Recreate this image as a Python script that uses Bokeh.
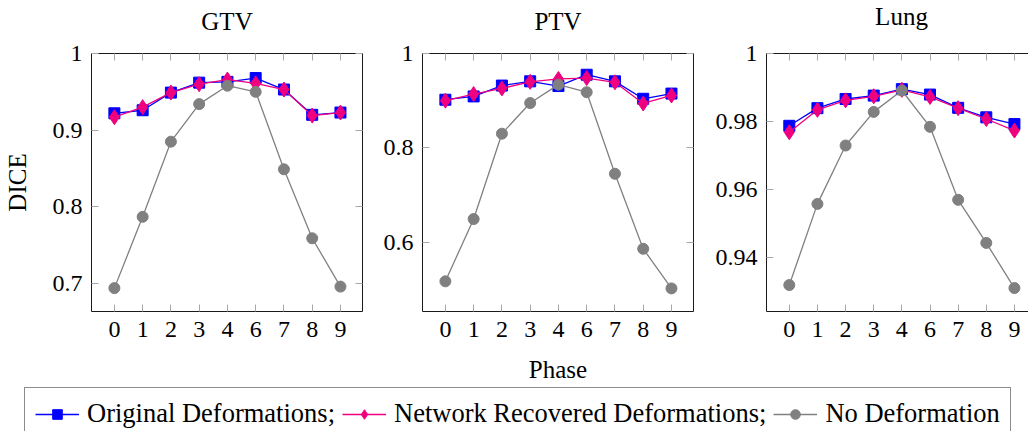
import numpy as np
from bokeh.plotting import figure
from bokeh.layouts import column, row
from bokeh.models import (LinearAxis, FixedTicker, Range1d, Legend, LegendItem, Label,
                          CustomJSTickFormatter, CustomLabelingPolicy)
from bokeh.embed import file_html
from bokeh.resources import INLINE

# ---------------- data ----------------
phases = ["0", "1", "2", "3", "4", "6", "7", "8", "9"]

gtv_orig = [0.922, 0.926, 0.949, 0.962, 0.963, 0.968, 0.953, 0.920, 0.923]
gtv_net = [0.917, 0.930, 0.949, 0.960, 0.966, 0.961, 0.953, 0.919, 0.923]
gtv_nodef = [0.694, 0.787, 0.885, 0.934, 0.958, 0.950, 0.849, 0.759, 0.696]

ptv_orig = [0.902, 0.909, 0.932, 0.941, 0.931, 0.955, 0.941, 0.904, 0.915]
ptv_net = [0.900, 0.914, 0.926, 0.940, 0.946, 0.948, 0.939, 0.894, 0.911]
ptv_nodef = [0.517, 0.649, 0.830, 0.895, 0.934, 0.918, 0.745, 0.586, 0.502]

lung_orig = [0.9787, 0.9839, 0.9866, 0.9876, 0.9895, 0.9879, 0.9840, 0.9812, 0.9792]
lung_net = [0.9768, 0.9834, 0.9862, 0.9874, 0.9893, 0.9872, 0.9839, 0.9807, 0.9773]
lung_nodef = [0.9318, 0.9557, 0.9729, 0.9828, 0.9891, 0.9784, 0.9569, 0.9442, 0.9309]

gtv_ticks = [0.7, 0.8, 0.9, 1.0]
gtv_labels = ["0.7", "0.8", "0.9", "1"]
ptv_ticks = [0.6, 0.8, 1.0]
ptv_labels = ["0.6", "0.8", "1"]
lung_ticks = [0.94, 0.96, 0.98, 1.0]
lung_labels = ["0.94", "0.96", "0.98", "1"]

titles = ["GTV", "PTV", "Lung"]
series_names = ["Original Deformations;", "Network Recovered Deformations;", "No Deformation"]

# ---------------- style ----------------
FONT = "Liberation Serif"
BLUE = "#0000ff"
PINK = "#f0007f"
GRAY = "#808080"
FRAME = "#1a1a1a"
TICK = "#a8a8a8"

LABEL_FMT = """
const i = tvals.findIndex(t => Math.abs(t - tick) < 1e-9);
return i >= 0 ? tlabels[i] : '';
"""
HIDE_ALL = """
for (const i of indices) indices.unset(i);
return indices;
"""


def add_axis(p, side, ticks, labels=None, axis_label=None, label_standoff=8):
    ax = LinearAxis(ticker=FixedTicker(ticks=ticks))
    ax.major_tick_in = 7
    ax.major_tick_out = 0
    ax.minor_tick_line_color = None
    ax.major_tick_line_color = TICK
    ax.axis_line_color = FRAME
    ax.axis_line_width = 1
    if labels is not None:
        ax.formatter = CustomJSTickFormatter(args=dict(tvals=list(ticks), tlabels=list(labels)),
                                             code=LABEL_FMT)
        ax.major_label_text_font = FONT
        ax.major_label_text_font_size = "24px"
        ax.major_label_text_color = "black"
        ax.major_label_standoff = label_standoff
    else:
        ax.major_label_policy = CustomLabelingPolicy(code=HIDE_ALL)
        ax.major_label_text_font_size = "0px"
        ax.major_label_standoff = 0
    if axis_label:
        ax.axis_label = axis_label
        ax.axis_label_text_font = FONT
        ax.axis_label_text_font_size = "25px"
        ax.axis_label_text_font_style = "normal"
        ax.axis_label_text_color = "black"
    p.add_layout(ax, side)
    return ax


def make_panel(orig, net, nodef, yr, yticks, ylabels, xend, width,
               left, right, mirror_right=True, ylabel=None, xlabel=None):
    xs = np.arange(len(phases))
    p = figure(width=width, height=347,
               x_range=Range1d(-0.81, xend), y_range=Range1d(*yr),
               output_backend="svg", toolbar_location=None,
               x_axis_location=None, y_axis_location=None,
               min_border_left=left, min_border_right=right,
               min_border_top=15, min_border_bottom=73)
    p.outline_line_color = None
    p.grid.visible = False

    xt = list(range(len(phases)))
    bx = add_axis(p, "below", xt, phases, axis_label=xlabel, label_standoff=10)
    if xlabel:
        bx.axis_label_standoff = 16
    add_axis(p, "above", xt)
    ly = add_axis(p, "left", yticks, ylabels, axis_label=ylabel, label_standoff=9)
    if ylabel:
        ly.axis_label_standoff = 19
    if mirror_right:
        add_axis(p, "right", yticks)

    p.line(xs, orig, line_color=BLUE, line_width=1.3)
    p.scatter(xs, orig, marker="square", size=11, fill_color=BLUE, line_color=BLUE)
    p.line(xs, net, line_color=PINK, line_width=1.3)
    p.scatter(xs, net, marker="diamond", size=15, fill_color=PINK, line_color=PINK)
    p.line(xs, nodef, line_color=GRAY, line_width=1.3)
    p.scatter(xs, nodef, marker="circle", size=11, fill_color=GRAY, line_color=GRAY)
    return p


p1 = make_panel(gtv_orig, gtv_net, gtv_nodef, (0.6635, 1.0), gtv_ticks, gtv_labels,
                8.78, 365, 91, 3, ylabel="DICE")
p2 = make_panel(ptv_orig, ptv_net, ptv_nodef, (0.453, 1.0), ptv_ticks, ptv_labels,
                8.78, 332, 57, 4, xlabel="Phase")
p3 = make_panel(lung_orig, lung_net, lung_nodef, (0.924, 1.0), lung_ticks, lung_labels,
                8.5, 331, 69, 0, mirror_right=False)

# ---------------- title strip (panel titles above each frame) ----------------
TS_H = 38
ts = figure(width=1028, height=TS_H, output_backend="svg", toolbar_location=None,
            x_axis_location=None, y_axis_location=None, min_border=0,
            x_range=Range1d(0, 1), y_range=Range1d(0, 1))
ts.outline_line_color = None
ts.grid.visible = False
title_x = [226.5, 557.5, 901]      # frame centres, screen px
title_cy = [21, 21, 16]            # text centre from page top, screen px
for t, tx, cy in zip(titles, title_x, title_cy):
    ts.add_layout(Label(x=tx, y=TS_H - cy, x_units="screen", y_units="screen", text=t,
                        text_align="center", text_baseline="middle",
                        text_font=FONT, text_font_size="25px", text_color="black"))

# ---------------- legend strip ----------------
# The legend's sample glyphs come from renderers of the GTV series placed in a
# strip whose ranges lie away from the data, so only the legend is visible.
lg = figure(width=1028, height=46, output_backend="svg", toolbar_location=None,
            x_axis_location=None, y_axis_location=None, min_border=0,
            x_range=Range1d(100, 101), y_range=Range1d(100, 101))
lg.outline_line_color = None
lg.grid.visible = False

xs_all = np.arange(len(phases))
r1 = lg.line(xs_all, gtv_orig, line_color=BLUE, line_width=1.3)
m1 = lg.scatter(xs_all, gtv_orig, marker="square", fill_color=BLUE, line_color=BLUE)
r2 = lg.line(xs_all, gtv_net, line_color=PINK, line_width=1.3)
m2 = lg.scatter(xs_all, gtv_net, marker="diamond", fill_color=PINK, line_color=PINK)
r3 = lg.line(xs_all, gtv_nodef, line_color=GRAY, line_width=1.3)
m3 = lg.scatter(xs_all, gtv_nodef, marker="circle", fill_color=GRAY, line_color=GRAY)

legend = Legend(items=[LegendItem(label=series_names[0], renderers=[r1, m1]),
                       LegendItem(label=series_names[1], renderers=[r2, m2]),
                       LegendItem(label=series_names[2], renderers=[r3, m3])],
                orientation="horizontal", location=(24, -9))
legend.label_text_font = FONT
legend.label_text_font_size = "26.5px"
legend.label_text_color = "black"
legend.glyph_width = 44
legend.glyph_height = 24
legend.label_height = 24
legend.label_standoff = 8
legend.spacing = 7
legend.padding = 10
legend.margin = 0
legend.border_line_color = FRAME
legend.border_line_width = 1
legend.background_fill_alpha = 1.0
lg.add_layout(legend)

layout = column(ts, row(p1, p2, p3), lg)

open("out.html", "w").write(file_html(layout, INLINE))
